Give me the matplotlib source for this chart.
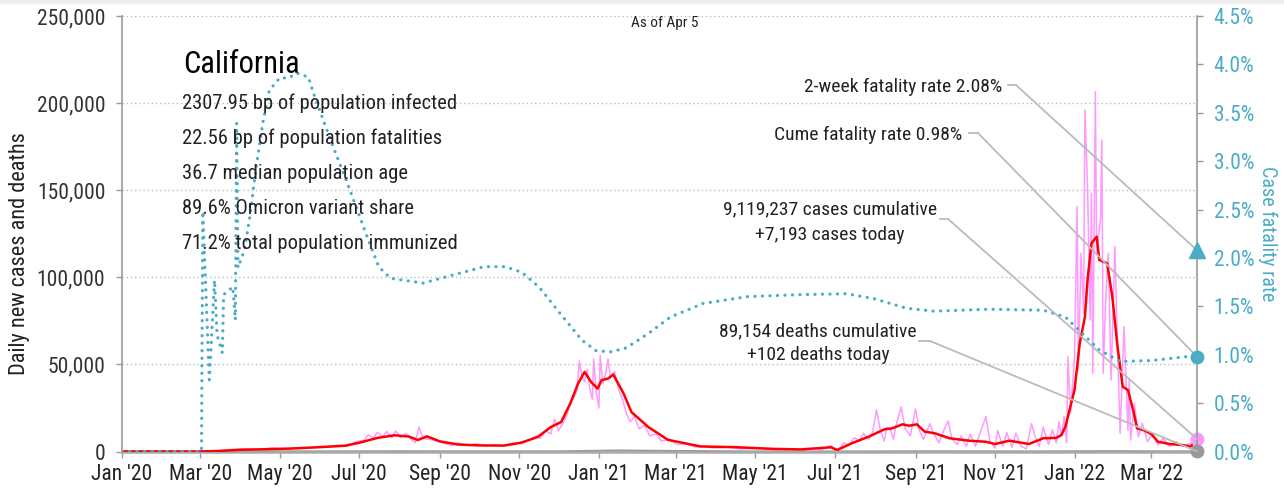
import pandas as pd
import matplotlib
matplotlib.use("Agg")
import matplotlib.pyplot as plt
import matplotlib.dates as mdates
from matplotlib.lines import Line2D
from matplotlib.patches import Rectangle
from matplotlib.ticker import FuncFormatter, MultipleLocator

plt.rcParams['font.family'] = ['Roboto Condensed', 'DejaVu Sans']

# ---- data ----
avg7_dates = ["2020-01-01", "2020-03-01", "2020-03-15", "2020-04-01", "2020-04-20", "2020-05-10",
              "2020-06-01", "2020-06-20", "2020-07-01", "2020-07-15", "2020-07-28", "2020-08-08",
              "2020-08-15", "2020-08-22", "2020-09-01", "2020-09-15", "2020-10-01", "2020-10-20",
              "2020-11-02", "2020-11-15", "2020-11-25", "2020-12-03", "2020-12-10", "2020-12-16",
              "2020-12-21", "2020-12-26", "2020-12-31", "2021-01-03", "2021-01-08", "2021-01-12",
              "2021-01-20", "2021-01-26", "2021-02-08", "2021-02-23", "2021-03-20", "2021-04-15",
              "2021-05-15", "2021-06-05", "2021-06-28", "2021-07-03", "2021-07-14", "2021-07-27",
              "2021-08-08", "2021-08-14", "2021-08-22", "2021-08-27", "2021-09-02", "2021-09-08",
              "2021-09-16", "2021-09-27", "2021-10-12", "2021-10-25", "2021-11-01", "2021-11-12",
              "2021-11-27", "2021-12-08", "2021-12-18", "2021-12-22", "2021-12-25", "2022-01-01",
              "2022-01-05", "2022-01-09", "2022-01-11", "2022-01-14", "2022-01-18", "2022-01-20",
              "2022-01-26", "2022-01-30", "2022-02-03", "2022-02-07", "2022-02-11", "2022-02-15",
              "2022-02-18", "2022-02-23", "2022-03-01", "2022-03-06", "2022-03-15", "2022-03-25",
              "2022-03-31", "2022-04-05"]
avg7_cases = [0, 0, 300, 1000, 1300, 1700,
              2500, 3300, 5000, 7800, 9300, 8600,
              6600, 8700, 5800, 4000, 3500, 3400,
              5000, 8300, 14000, 16900, 27500, 39000,
              45700, 39900, 36100, 40900, 41900, 44200,
              33200, 22600, 14000, 6700, 2900, 2500,
              1500, 1200, 2400, 900, 4700, 8500,
              12700, 13300, 15600, 14800, 15600, 11400,
              10400, 7600, 6200, 5600, 4300, 6200,
              4300, 7600, 7800, 9500, 14200, 35300,
              62100, 77400, 98500, 119500, 123300, 110000,
              108000, 88900, 60200, 37200, 35300, 23800,
              13300, 12300, 10000, 5600, 4300, 3700,
              2800, 6600]

daily_dates = ["2020-01-01", "2020-03-01", "2020-03-15", "2020-03-25", "2020-04-05", "2020-04-15",
               "2020-04-25", "2020-05-05", "2020-05-15", "2020-05-25", "2020-06-05", "2020-06-15",
               "2020-06-22", "2020-06-28", "2020-07-05", "2020-07-08", "2020-07-12", "2020-07-15",
               "2020-07-19", "2020-07-22", "2020-07-26", "2020-07-29", "2020-08-02", "2020-08-06",
               "2020-08-10", "2020-08-13", "2020-08-16", "2020-08-19", "2020-08-24", "2020-08-30",
               "2020-09-05", "2020-09-10", "2020-09-15", "2020-09-22", "2020-09-29", "2020-10-06",
               "2020-10-13", "2020-10-20", "2020-10-27", "2020-11-03", "2020-11-10", "2020-11-14",
               "2020-11-17", "2020-11-21", "2020-11-25", "2020-11-28", "2020-12-01", "2020-12-05",
               "2020-12-08", "2020-12-10", "2020-12-13", "2020-12-15", "2020-12-17", "2020-12-19",
               "2020-12-21", "2020-12-23", "2020-12-25", "2020-12-27", "2020-12-28", "2020-12-30",
               "2021-01-01", "2021-01-02", "2021-01-04", "2021-01-06", "2021-01-08", "2021-01-10",
               "2021-01-13", "2021-01-16", "2021-01-19", "2021-01-22", "2021-01-25", "2021-01-28",
               "2021-02-01", "2021-02-05", "2021-02-09", "2021-02-14", "2021-02-18", "2021-02-24",
               "2021-03-02", "2021-03-09", "2021-03-16", "2021-03-23", "2021-03-30", "2021-04-10",
               "2021-04-20", "2021-05-01", "2021-05-15", "2021-06-01", "2021-06-15", "2021-06-22",
               "2021-06-28", "2021-07-03", "2021-07-08", "2021-07-12", "2021-07-16", "2021-07-20",
               "2021-07-23", "2021-07-27", "2021-07-30", "2021-08-02", "2021-08-05", "2021-08-08",
               "2021-08-10", "2021-08-13", "2021-08-15", "2021-08-17", "2021-08-21", "2021-08-24",
               "2021-08-28", "2021-09-01", "2021-09-04", "2021-09-07", "2021-09-12", "2021-09-15",
               "2021-09-19", "2021-09-22", "2021-09-26", "2021-09-29", "2021-10-03", "2021-10-06",
               "2021-10-10", "2021-10-13", "2021-10-17", "2021-10-20", "2021-10-25", "2021-10-28",
               "2021-11-01", "2021-11-03", "2021-11-07", "2021-11-10", "2021-11-14", "2021-11-17",
               "2021-11-21", "2021-11-25", "2021-11-29", "2021-12-02", "2021-12-05", "2021-12-08",
               "2021-12-12", "2021-12-15", "2021-12-18", "2021-12-20", "2021-12-22", "2021-12-24",
               "2021-12-26", "2021-12-27", "2021-12-29", "2022-01-01", "2022-01-03", "2022-01-04",
               "2022-01-06", "2022-01-08", "2022-01-09", "2022-01-11", "2022-01-13", "2022-01-14",
               "2022-01-15", "2022-01-17", "2022-01-18", "2022-01-21", "2022-01-22", "2022-01-23",
               "2022-01-25", "2022-01-27", "2022-01-29", "2022-02-01", "2022-02-03", "2022-02-05",
               "2022-02-08", "2022-02-11", "2022-02-12", "2022-02-13", "2022-02-16", "2022-02-19",
               "2022-02-22", "2022-02-26", "2022-03-02", "2022-03-06", "2022-03-10", "2022-03-15",
               "2022-03-20", "2022-03-25", "2022-03-31", "2022-04-03", "2022-04-05"]
daily_cases = [0, 0, 400, 1200, 1500, 1100,
               2100, 1500, 2000, 2300, 2600, 3600,
               3000, 5500, 6500, 9500, 7800, 11000,
               8500, 11500, 8000, 11800, 8000, 10500,
               7000, 5000, 14000, 7500, 7000, 6000,
               4500, 3500, 5000, 3500, 4500, 3200,
               4000, 3200, 5000, 4500, 7000, 9000,
               7500, 12000, 10000, 18500, 12000, 17000,
               22000, 28000, 31000, 35000, 52000, 43000,
               40000, 47000, 36000, 30000, 53000, 34000,
               25000, 55000, 39000, 44000, 53000, 42000,
               46000, 36000, 30000, 22000, 17000, 20000,
               13000, 15000, 9000, 10000, 6000, 7000,
               4000, 4500, 2500, 3000, 2000, 2500,
               1500, 1800, 1000, 1200, 700, 1500,
               3500, 0, 5000, 3500, 8000, 6000,
               10500, 7000, 11000, 24000, 12000, 6000,
               14000, 12000, 7000, 15000, 25500, 13000,
               9000, 24500, 12000, 7000, 16000, 10000,
               5000, 11000, 17500, 7000, 4000, 9000,
               3000, 10000, 3000, 9500, 20000, 6000,
               2000, 12000, 3000, 11000, 2500, 10500,
               3000, 1500, 16000, 8000, 3000, 14000,
               4000, 12500, 5000, 17000, 9000, 20000,
               5000, 54400, 22000, 54400, 140500, 46800,
               113800, 79500, 196000, 152000, 75500, 148200,
               44900, 206500, 113800, 134800, 178800, 44900,
               88900, 113800, 41000, 117600, 60200, 10400,
               71600, 12300, 41000, 6600, 27700, 8500,
               16200, 5600, 10400, 3700, 7600, 2800,
               5600, 2800, 4700, 1800, 7193]

deaths_dates = ["2020-01-01", "2020-03-15", "2020-04-15", "2020-06-01", "2020-08-01", "2020-10-01",
                "2020-12-01", "2021-01-15", "2021-03-01", "2021-05-01", "2021-08-01", "2021-09-15",
                "2021-12-01", "2022-02-01", "2022-03-15", "2022-04-05"]
daily_deaths = [0, 10, 90, 70, 140, 80, 80, 550, 300, 30, 50, 120, 40, 200, 70, 102]

cfr_dates = ["2020-01-01", "2020-03-02", "2020-03-03", "2020-03-08", "2020-03-12", "2020-03-14",
             "2020-03-18", "2020-03-19", "2020-03-26", "2020-03-28", "2020-03-29", "2020-03-30",
             "2020-04-04", "2020-04-08", "2020-04-13", "2020-04-18", "2020-04-23", "2020-05-01",
             "2020-05-08", "2020-05-14", "2020-05-23", "2020-05-27", "2020-06-09", "2020-06-22",
             "2020-07-06", "2020-07-16", "2020-07-25", "2020-08-19", "2020-09-10", "2020-10-05",
             "2020-10-21", "2020-11-03", "2020-11-16", "2020-12-02", "2020-12-19", "2020-12-30",
             "2021-01-10", "2021-01-22", "2021-02-08", "2021-02-25", "2021-03-22", "2021-04-25",
             "2021-06-02", "2021-07-10", "2021-07-31", "2021-08-25", "2021-09-15", "2021-10-27",
             "2021-12-08", "2021-12-25", "2022-01-07", "2022-01-20", "2022-02-05", "2022-03-01",
             "2022-03-28", "2022-04-05"]
cfr_pct = [0, 0, 2.48, 0.74, 1.77, 1.20,
           1.02, 1.62, 1.70, 1.36, 3.39, 1.90,
           2.08, 2.42, 2.94, 3.39, 3.73, 3.86,
           3.86, 3.91, 3.87, 3.70, 3.22, 2.77,
           2.26, 1.91, 1.79, 1.74, 1.82, 1.91,
           1.91, 1.85, 1.70, 1.43, 1.15, 1.04,
           1.03, 1.07, 1.22, 1.39, 1.53, 1.60,
           1.62, 1.63, 1.58, 1.48, 1.45, 1.47,
           1.46, 1.39, 1.22, 1.05, 0.93, 0.94,
           0.98, 0.98]

state = "California"
stats = ["2307.95 bp of population infected",
         "22.56 bp of population fatalities",
         "36.7 median population age",
         "89.6% Omicron variant share",
         "71.2% total population immunized"]
as_of = "As of Apr 5"
last_day = "2022-04-05"
cases_today = 7193
deaths_today = 102
cume_cfr = 0.98
two_week_cfr = 2.08
cases_label = ["9,119,237 cases cumulative", "+7,193 cases today"]
deaths_label = ["89,154 deaths cumulative", "+102 deaths today"]

TEAL = "#4BACC6"
PINK = "#FF99FF"
RED = "#FF0000"
GRAY = "#999999"
LEADER = "#BBBBBB"
TEXT = "#222222"

W, H = 1284, 491


def fx(x):
    return x / W


def fy(y):
    return 1 - y / H


fig = plt.figure(figsize=(W / 100, H / 100), dpi=100)
fig.patches.append(Rectangle((0, fy(3)), 1, 3 / H, transform=fig.transFigure,
                             color="#EFEFEF", zorder=0))

ax = fig.add_axes([fx(122), fy(451.5), fx(1197) - fx(122), (451.5 - 16) / H])
ax2 = ax.twinx()

d_daily = pd.to_datetime(daily_dates)
d_avg = pd.to_datetime(avg7_dates)
d_deaths = pd.to_datetime(deaths_dates)
d_cfr = pd.to_datetime(cfr_dates)
d_last = pd.Timestamp(last_day)

ax.plot(d_deaths, daily_deaths, color=GRAY, lw=1.5, zorder=2)
ax.plot(d_daily, daily_cases, color=PINK, lw=1.1, zorder=3)
ax.plot(d_avg, avg7_cases, color=RED, lw=1.8, zorder=4)
ax.plot([d_last], [cases_today], "o", color=PINK, ms=9, clip_on=False, zorder=6)
ax.plot([d_last], [deaths_today], "o", color=GRAY, ms=9, clip_on=False, zorder=6)

ax2.plot(d_cfr, cfr_pct, color=TEAL, lw=2.3, ls=(0, (0.05, 2.3)),
         dash_capstyle="round", zorder=3)
ax2.plot([d_last], [two_week_cfr], "^", color=TEAL, ms=11, clip_on=False, zorder=6)
ax2.plot([d_last], [cume_cfr], "o", color=TEAL, ms=9, clip_on=False, zorder=6)

ax.set_xlim(pd.Timestamp("2020-01-01"), d_last)
ax.set_ylim(0, 250000)
ax2.set_ylim(0, 4.5)

ax.xaxis.set_major_locator(mdates.MonthLocator(bymonth=[1, 3, 5, 7, 9, 11]))
ax.xaxis.set_major_formatter(mdates.DateFormatter("%b '%y"))
ax.yaxis.set_major_locator(MultipleLocator(50000))
ax.yaxis.set_major_formatter(FuncFormatter(lambda v, p: f"{int(v):,}"))
ax2.yaxis.set_major_locator(MultipleLocator(0.5))
ax2.yaxis.set_major_formatter(FuncFormatter(lambda v, p: f"{v:.1f}%"))

ax.grid(axis="y", color="#BBBBBB", ls=(0, (1, 2)), lw=1)
ax.set_axisbelow(True)

for a in (ax, ax2):
    a.spines["top"].set_visible(False)
    for s in ("left", "right"):
        a.spines[s].set_color(GRAY)
        a.spines[s].set_linewidth(1.2)
    a.spines["bottom"].set_color("#AAAAAA")
    a.spines["bottom"].set_linewidth(1.8)
ax.spines["right"].set_visible(False)
ax2.spines["left"].set_visible(False)
ax2.spines["bottom"].set_visible(False)

ax.tick_params(axis="y", colors=GRAY, labelcolor="#333333", labelsize=15.5, length=4, width=1, pad=8)
ax.tick_params(axis="x", colors=GRAY, labelcolor=TEXT, labelsize=15.5, length=4, width=1, pad=5)
ax2.tick_params(axis="y", colors=GRAY, labelcolor=TEAL, labelsize=15.5, length=4, width=1, pad=8)

ax.set_ylabel("Daily new cases and deaths", fontsize=16, color=TEXT)
ax.yaxis.set_label_coords(-0.086, 0.455)
ax2.set_ylabel("Case fatality rate", fontsize=14.5, color=TEAL, rotation=270, va="center")
ax2.yaxis.set_label_coords(1.066, 0.5)

fig.text(fx(665), fy(27), as_of, fontsize=11, color=TEXT, ha="center", va="baseline")
fig.text(fx(183), fy(73), state, fontsize=22, color="black", ha="left", va="baseline")
for i, line in enumerate(stats):
    fig.text(fx(182), fy(109 + 35 * i), line, fontsize=14.8, color=TEXT, ha="left", va="baseline")

# annotation texts
fig.text(fx(1002), fy(92), f"2-week fatality rate {two_week_cfr:.2f}%", fontsize=14,
         color=TEXT, ha="right", va="baseline")
fig.text(fx(962), fy(140), f"Cume fatality rate {cume_cfr:.2f}%", fontsize=14,
         color=TEXT, ha="right", va="baseline")
for i, line in enumerate(cases_label):
    fig.text(fx(830), fy(214 + 26 * i), line, fontsize=14, color=TEXT, ha="center", va="baseline")
for i, line in enumerate(deaths_label):
    fig.text(fx(818), fy(336 + 24 * i), line, fontsize=14, color=TEXT, ha="center", va="baseline")

# leader lines: short horizontal stub then a straight line to the marker
leaders = [
    (ax2, two_week_cfr, 1008, 1016, 85),
    (ax2, cume_cfr, 969, 978, 133),
    (ax, cases_today, 940, 948, 219),
    (ax, deaths_today, 919, 930, 341),
]
for a, val, x0, x1, y in leaders:
    fig.add_artist(Line2D([fx(x0), fx(x1)], [fy(y), fy(y)], transform=fig.transFigure,
                          color=LEADER, lw=1.3))
    ax2.annotate("", xy=(mdates.date2num(d_last), val), xycoords=a.transData,
                 xytext=(fx(x1), fy(y)), textcoords="figure fraction",
                 arrowprops=dict(arrowstyle="-", color=LEADER, lw=1.3,
                                 shrinkA=0, shrinkB=0), zorder=5)

fig.savefig("out.png", dpi=100)
